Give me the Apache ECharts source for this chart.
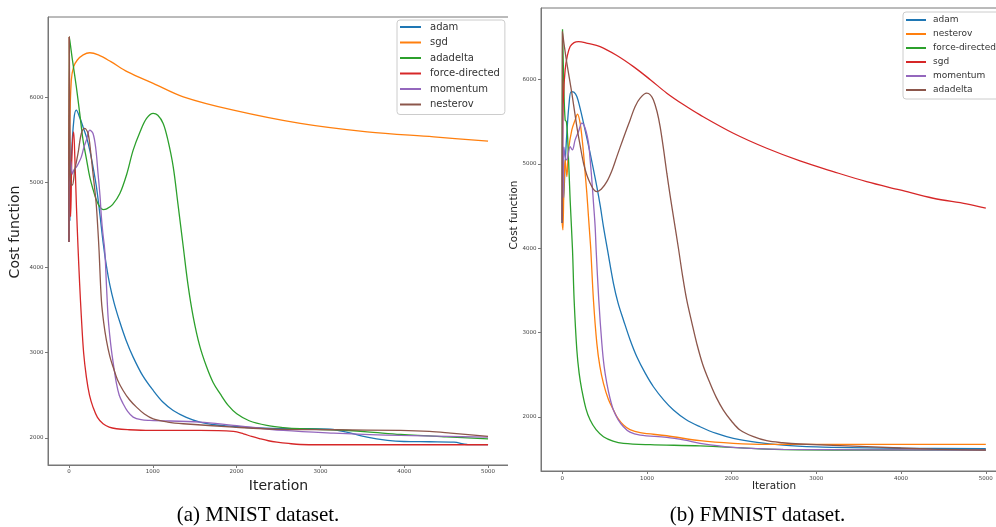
<!DOCTYPE html>
<html>
<head>
<meta charset="utf-8">
<script src="https://cdn.jsdelivr.net/npm/echarts@6/dist/echarts.min.js"></script>
<style>
  html, body { margin: 0; padding: 0; background: #fff; }
  #wrap { position: relative; width: 996px; height: 527px; overflow: hidden; }
  #mnist { position: absolute; left: 0; top: 0; width: 508px; height: 527px; }
  #fmnistBox { position: absolute; left: 500px; top: 0; width: 496px; height: 527px; overflow: hidden; }
  #fmnist { position: absolute; left: 0; top: 0; width: 520px; height: 527px; }
</style>
</head>
<body>
<div id="wrap">
  <div id="mnist"></div>
  <div id="fmnistBox"><div id="fmnist"></div></div>
</div>
<script>
// tick values
const xTicks = [0, 1000, 2000, 3000, 4000, 5000];
const yTicks = [2000, 3000, 4000, 5000, 6000];

// (a) MNIST -- [iteration, cost]
const mnistAdam = [[0,4300],[6,5800],[12,4550],[30,5300],[60,5750],[88,5850],[130,5760],[168,5654],[210,5530],[248,5380],[290,5170],[328,4948],[370,4620],[407,4300],[447,4020],[487,3800],[540,3580],[607,3360],[680,3150],[766,2948],[880,2730],[1005,2556],[1120,2420],[1244,2321],[1400,2240],[1563,2184],[1760,2150],[1962,2133],[2250,2115],[2560,2106],[2850,2106],[3118,2100],[3300,2070],[3557,2007],[3800,1970],[3996,1956],[4300,1953],[4594,1949],[4753,1921],[5000,1920]];
const mnistSgd = [[0,4350],[8,5600],[28,6200],[56,6360],[100,6440],[170,6500],[248,6525],[350,6500],[500,6420],[700,6300],[1005,6165],[1364,6007],[1962,5850],[2760,5694],[3557,5595],[4354,5536],[5000,5486]];
const mnistAdadelta = [[0,4300],[5,6710],[40,6450],[88,6125],[130,5800],[168,5498],[210,5270],[248,5066],[290,4910],[328,4792],[370,4710],[407,4682],[450,4690],[520,4740],[607,4870],[690,5100],[766,5380],[850,5600],[926,5753],[1005,5812],[1060,5790],[1124,5694],[1180,5500],[1244,5184],[1300,4750],[1364,4242],[1420,3800],[1483,3419],[1560,3080],[1643,2831],[1720,2650],[1803,2518],[1900,2380],[2002,2282],[2150,2200],[2361,2145],[2560,2120],[2760,2106],[3158,2094],[3556,2070],[3956,2039],[4500,2010],[5000,1988]];
const mnistForce = [[0,4300],[4,6710],[10,5000],[20,4600],[35,5300],[56,5595],[70,5300],[90,4700],[108,4242],[128,3800],[148,3419],[175,3000],[208,2713],[245,2500],[287,2360],[340,2240],[407,2164],[480,2125],[567,2106],[700,2095],[965,2086],[1563,2086],[1962,2074],[2082,2047],[2180,2015],[2281,1988],[2380,1965],[2481,1949],[2620,1933],[2760,1921],[3000,1918],[5000,1918]];
const mnistMomentum = [[0,4300],[6,5400],[12,5100],[20,5250],[40,5100],[60,5150],[88,5180],[120,5240],[148,5301],[180,5420],[208,5498],[248,5615],[287,5576],[320,5400],[347,5106],[370,4850],[387,4595],[405,4400],[427,4204],[447,3800],[467,3419],[487,3200],[507,3027],[537,2820],[567,2635],[600,2500],[646,2400],[700,2310],[766,2243],[860,2212],[965,2204],[1563,2184],[1962,2145],[2560,2086],[3158,2055],[3956,2027],[5000,2008]];
const mnistNesterov = [[0,4300],[4,6710],[12,5400],[20,5000],[40,4968],[70,5150],[108,5341],[148,5576],[188,5635],[228,5576],[260,5350],[287,5106],[310,4900],[328,4713],[345,4450],[359,4204],[387,3615],[415,3350],[447,3145],[487,2960],[527,2831],[580,2680],[646,2556],[720,2450],[806,2360],[900,2280],[1005,2223],[1180,2185],[1364,2165],[1962,2125],[2560,2098],[3158,2094],[3956,2086],[4300,2075],[4554,2055],[5000,2016]];

// (b) FMNIST -- [iteration, cost]
const fmnistAdam = [[0,4300],[8,4900],[16,4574],[35,5000],[55,5365],[80,5700],[106,5859],[140,5850],[173,5800],[212,5660],[252,5484],[291,5310],[330,5128],[370,4930],[409,4732],[450,4500],[487,4257],[535,3981],[605,3586],[660,3350],[723,3151],[800,2920],[881,2715],[980,2520],[1077,2359],[1200,2200],[1313,2083],[1460,1970],[1627,1885],[1820,1805],[2020,1747],[2300,1700],[2610,1668],[3000,1645],[3200,1640],[4000,1630],[5000,1624]];
const fmnistNesterov = [[0,4300],[8,4218],[20,4700],[35,5049],[55,4851],[75,5167],[114,5405],[153,5523],[181,5591],[212,5484],[235,5300],[252,5128],[272,4880],[291,4654],[310,4380],[330,4100],[338,3981],[369,3388],[409,2874],[445,2600],[487,2400],[545,2210],[605,2083],[660,1980],[723,1905],[800,1850],[920,1814],[1235,1778],[1627,1719],[2020,1688],[2414,1676],[5000,1676]];
const fmnistForce = [[0,4300],[4,6599],[20,5900],[35,5523],[50,5500],[65,5300],[94,4574],[122,3981],[141,3388],[173,2795],[200,2520],[232,2320],[280,2100],[330,1964],[400,1850],[487,1767],[600,1715],[723,1688],[1038,1672],[1627,1657],[2414,1620],[3200,1609],[5000,1609]];
const fmnistSgd = [[0,4337],[5,5200],[15,5800],[35,6116],[60,6280],[94,6393],[140,6440],[193,6452],[300,6430],[448,6393],[641,6290],[841,6155],[1040,6000],[1235,5840],[1430,5705],[1627,5582],[2020,5365],[2414,5187],[2807,5037],[3200,4910],[3593,4791],[3986,4693],[4379,4594],[4772,4527],[5000,4476]];
const fmnistMomentum = [[0,4300],[5,5721],[12,4600],[20,5200],[35,5088],[55,5049],[94,5207],[120,5167],[153,5286],[193,5385],[232,5484],[271,5425],[311,5247],[330,5050],[350,4811],[370,4530],[389,4257],[401,3981],[432,3388],[468,2874],[495,2600],[527,2400],[565,2220],[605,2083],[660,1970],[723,1885],[800,1820],[920,1786],[1235,1759],[1450,1725],[1627,1688],[2020,1640],[2610,1617],[5000,1609]];
const fmnistAdadelta = [[0,4300],[3,6571],[25,6400],[55,6196],[114,5840],[173,5444],[212,5220],[252,5009],[291,4870],[330,4772],[370,4700],[409,4673],[460,4700],[527,4791],[590,4930],[645,5088],[720,5300],[802,5523],[860,5680],[920,5781],[998,5840],[1040,5820],[1077,5760],[1120,5620],[1156,5444],[1200,5150],[1235,4891],[1275,4620],[1313,4376],[1372,4001],[1420,3680],[1470,3388],[1530,3120],[1588,2874],[1660,2620],[1745,2400],[1820,2230],[1902,2083],[2000,1950],[2099,1846],[2250,1770],[2414,1719],[2600,1695],[2807,1680],[3593,1648],[4379,1620],[5000,1609]];

const mnistNames = ['adam', 'sgd', 'adadelta', 'force-directed', 'momentum', 'nesterov'];
const mnistSeries = [mnistAdam, mnistSgd, mnistAdadelta, mnistForce, mnistMomentum, mnistNesterov];
const fmnistNames = ['adam', 'nesterov', 'force-directed', 'sgd', 'momentum', 'adadelta'];
const fmnistSeries = [fmnistAdam, fmnistNesterov, fmnistForce, fmnistSgd, fmnistMomentum, fmnistAdadelta];

const colors = ['#1f77b4', '#ff7f0e', '#2ca02c', '#d62728', '#9467bd', '#8c564b'];
const FONT = 'DejaVu Sans';

function panel(p) {
  return {
    animation: false,
    color: colors,
    title: {
      text: p.caption,
      left: p.capX,
      top: 505,
      textAlign: 'center',
      padding: 0,
      textStyle: { fontFamily: 'Liberation Serif', fontSize: 21, fontWeight: 'normal', color: '#000' }
    },
    legend: {
      orient: 'vertical',
      left: p.lg.left,
      top: p.lg.top,
      padding: p.lg.padding,
      itemWidth: p.lg.itemWidth,
      itemHeight: 2,
      itemGap: p.lg.gap,
      icon: 'rect',
      borderColor: '#ccc',
      borderWidth: 1,
      borderRadius: 3,
      backgroundColor: 'rgba(255,255,255,0.8)',
      textStyle: { fontFamily: FONT, fontSize: p.lg.font, color: '#333', lineHeight: p.lg.lh, padding: [0, 0, 0, p.lg.textPad] },
      data: p.names
    },
    grid: {
      left: p.grid.left, top: p.grid.top, width: p.grid.width, height: p.grid.height,
      outerBoundsMode: 'none', containLabel: false,
      show: true, borderColor: '#777', borderWidth: 1
    },
    xAxis: {
      type: 'value', min: -250, max: 5250,
      name: 'Iteration', nameLocation: 'middle', nameGap: p.xGap, nameMoveOverlap: false,
      nameTextStyle: { fontFamily: FONT, fontSize: p.nameFont, color: '#222' },
      axisLine: { onZero: false, lineStyle: { color: '#777', width: 1 } },
      axisTick: { customValues: xTicks, length: 3, lineStyle: { color: '#777' } },
      axisLabel: { customValues: xTicks, formatter: v => String(v), fontFamily: FONT, fontSize: 5.5, color: '#444', margin: p.xMargin },
      splitLine: { show: false }
    },
    yAxis: {
      type: 'value', min: p.yMin, max: p.yMax,
      name: 'Cost function', nameLocation: 'middle', nameGap: p.yGap, nameMoveOverlap: false,
      nameTextStyle: { fontFamily: FONT, fontSize: p.nameFont, color: '#222', padding: [0, 0, 0, p.yShift] },
      axisLine: { show: true, onZero: false, lineStyle: { color: '#777', width: 1 } },
      axisTick: { show: true, customValues: yTicks, length: 3, lineStyle: { color: '#777' } },
      axisLabel: { customValues: yTicks, formatter: v => String(v), fontFamily: FONT, fontSize: 5.5, color: '#444', margin: 4.5 },
      splitLine: { show: false }
    },
    series: p.series.map((d, i) => ({
      name: p.names[i],
      type: 'line',
      data: d,
      symbol: 'none',
      smooth: 0.35,
      lineStyle: { width: 1.3, color: p.colors[i] },
      itemStyle: { color: p.colors[i] }
    }))
  };
}

const c1 = echarts.init(document.getElementById('mnist'), null, { renderer: 'canvas' });
c1.setOption(panel({
  caption: '(a) MNIST dataset.', capX: 258,
  names: mnistNames, series: mnistSeries, colors: colors,
  lg: { left: 397, top: 20, padding: [1, 5, 4, 3], itemWidth: 21, gap: 3.5, font: 10, lh: 12, textPad: 4 },
  grid: { left: 48, top: 17, width: 461, height: 448 },
  xGap: 14, xMargin: 3.5, yGap: 26, yShift: 18, nameFont: 14,
  yMin: 1680, yMax: 6945
}));

const c2 = echarts.init(document.getElementById('fmnist'), null, { renderer: 'canvas' });
c2.setOption(panel({
  caption: '(b) FMNIST dataset.', capX: 257.5,
  names: fmnistNames, series: fmnistSeries, colors: colors,
  lg: { left: 403, top: 12, padding: [2.5, 5, 3.5, 3], itemWidth: 20, gap: 3, font: 9, lh: 11, textPad: 2 },
  grid: { left: 41, top: 8, width: 466, height: 463 },
  xGap: 10, xMargin: 5, yGap: 22, yShift: 49, nameFont: 10.4,
  yMin: 1360, yMax: 6850
}));
</script>
</body>
</html>
